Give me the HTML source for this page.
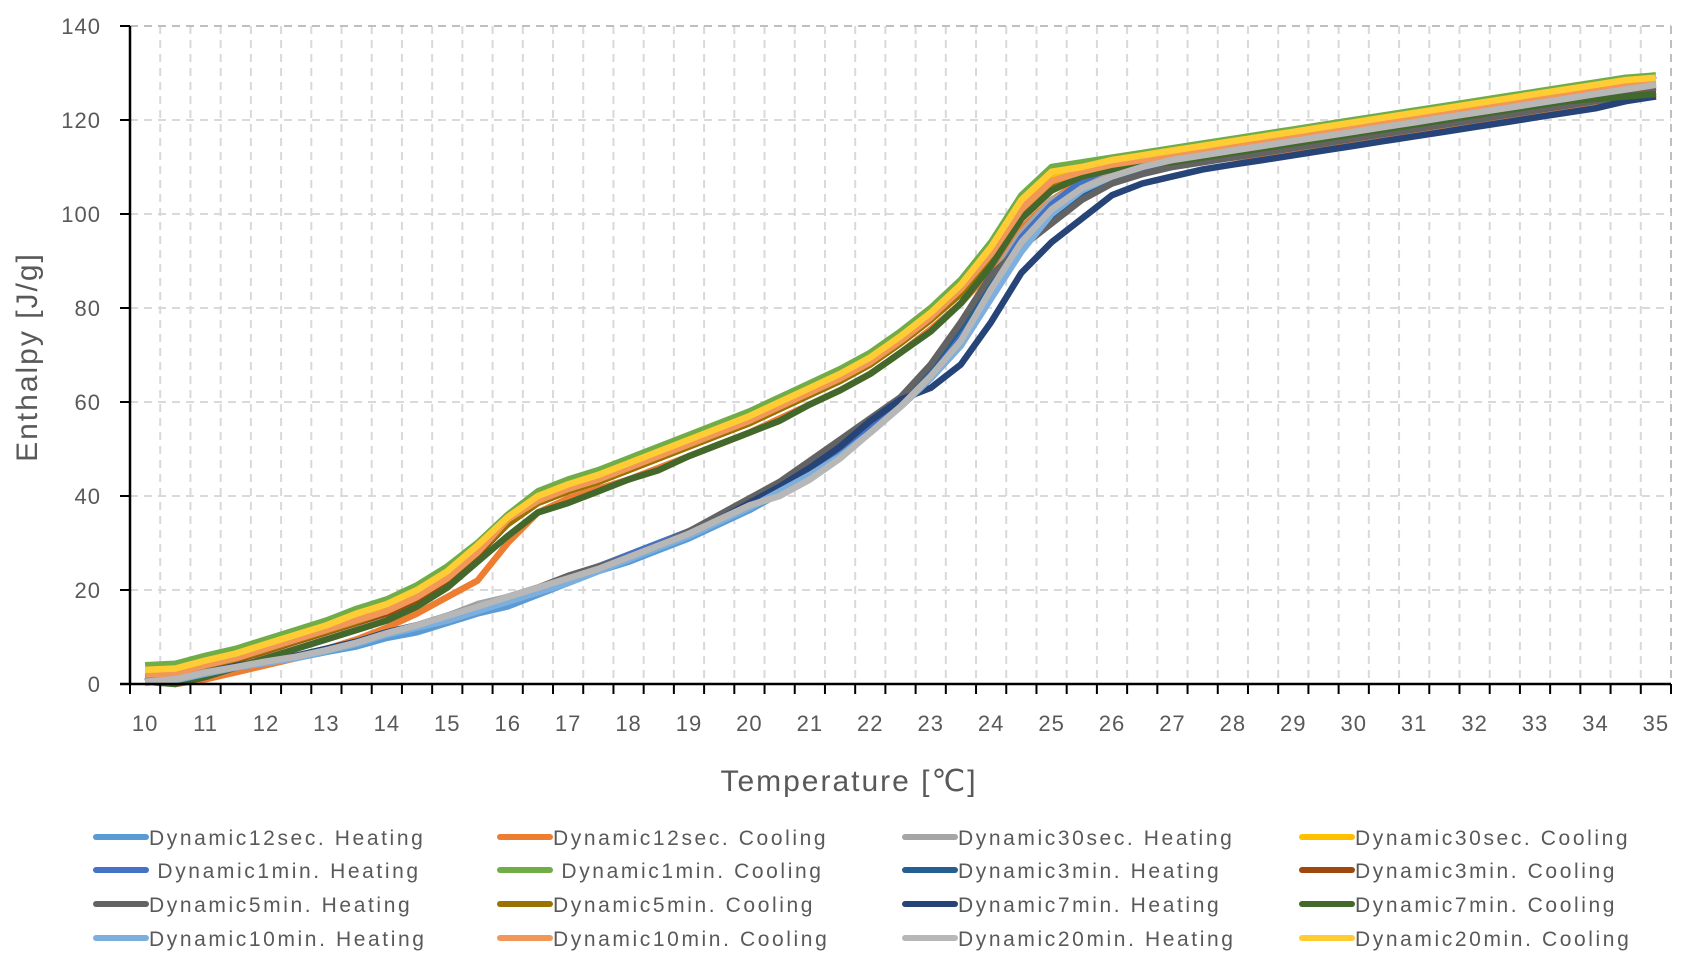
<!DOCTYPE html>
<html><head><meta charset="utf-8"><style>
html,body{margin:0;padding:0;background:#fff}
svg{display:block}
text{font-family:"Liberation Sans",sans-serif;fill:#595959}
</style></head><body>
<svg id="chart" width="1686" height="965" viewBox="0 0 1686 965" xmlns="http://www.w3.org/2000/svg">
<g id="grid"></g>
<g id="series"></g>
<g id="axes"></g>
<text x="0" y="0" transform="translate(37,357) rotate(-90)" text-anchor="middle" font-size="30" letter-spacing="2">Enthalpy [J/g]</text>
<text x="849" y="791" text-anchor="middle" font-size="30" letter-spacing="2">Temperature [℃]</text>
<g id="legend"></g>
</svg>
<script>
const categories = [10,10.5,11,11.5,12,12.5,13,13.5,14,14.5,15,15.5,16,16.5,17,17.5,18,18.5,19,19.5,20,20.5,21,21.5,22,22.5,23,23.5,24,24.5,25,25.5,26,26.5,27,27.5,28,28.5,29,29.5,30,30.5,31,31.5,32,32.5,33,33.5,34,34.5,35];
const yTicks = [0,20,40,60,80,100,120,140];
const seriesNames = ["Dynamic12sec. Heating","Dynamic12sec. Cooling","Dynamic30sec. Heating","Dynamic30sec. Cooling"," Dynamic1min. Heating"," Dynamic1min. Cooling","Dynamic3min. Heating","Dynamic3min. Cooling","Dynamic5min. Heating","Dynamic5min. Cooling","Dynamic7min. Heating","Dynamic7min. Cooling","Dynamic10min. Heating","Dynamic10min. Cooling","Dynamic20min. Heating","Dynamic20min. Cooling"];
const seriesColors = ["#5B9BD5","#ED7D31","#A5A5A5","#FFC000","#4472C4","#70AD47","#255E91","#9E480E","#636363","#997300","#264478","#43682B","#7CAFDD","#F1975A","#B7B7B7","#FFCD33"];
const h12s = [0.3,0.8,2.3,3.5,4.5,5.5,6.8,8,9.8,11,13,15,16.5,19,21.5,24,26,28.5,31,34,37,40.5,44.5,48.5,53.5,59,65,72,83,94,101,105,107.5,109.5,111,112,113,114,115,116,117,118,119,120,121,122,123,124,125,126,127];
const c12s = [1.5,0,1,2.5,4,5.5,7.5,9.5,12,15,18.5,22,30,36.5,39.5,41.5,43.5,46,48.5,51,53.5,56.5,59.5,62.5,66,70.5,75.5,81,88,97,103,107,109.5,110.5,111,111.5,112,112.5,113,114,115,116,117,118,119,120,121,122,123,124,125.5];
const h30s = [0.5,1,2.5,3.5,4.8,5.8,7.2,8.8,10.8,12.5,14.5,17,18.5,20.5,23,25,27.5,30,32.5,35.5,38.5,41.5,45.5,49.5,54.5,60,66.5,75,86,96,103,106,108.5,110,111.5,112.5,113.5,114.5,115.5,116.5,117.5,118.5,119.5,120.5,121.5,122.5,123.5,124.5,125.5,126.5,127.5];
const c30s = [2.5,2.8,4.5,6,8,10,12,14.5,16.5,19.5,23.5,29,35,39.5,42,44,46.5,49,51.5,54,56.5,59.5,62.5,65.5,69,73.5,78.5,84.5,92,102,108,109.5,111,112,113,114,115,116,117,118,119,120,121,122,123,124,125,126,127,128,128.5];
const h1m = [0.5,1,2.5,3.8,5,6,7.5,9,11,12.5,14.5,16.5,18.5,20.5,22.5,25,27.5,30,32.5,35.5,38.5,42,46,50,55,60,66,74,85,95,102,107,110,111.5,112.5,113.5,114.5,115.5,116.5,117.5,118.5,119.5,120.5,121.5,122.5,123.5,124.5,125.5,126.5,128,129.5];
const c1m = [4,4.3,6,7.5,9.5,11.5,13.5,16,18,21,25,30,36,41,43.5,45.5,48,50.5,53,55.5,58,61,64,67,70.5,75,80,86,94,104,110,111,112,113,114,115,116,117,118,119,120,121,122,123,124,125,126,127,128,129,129.5];
const h3m = [0.5,1,2.5,3.8,5,6,7.5,9,11,12.5,14.5,16.5,18,20,22.5,24.5,27,29.5,32.5,35.5,39,42.5,47,51,56,61,67.5,76,86,93,99,104,107,109,110.5,111.5,112.5,113.5,114.5,115.5,116.5,117.5,118.5,119.5,120.5,121.5,122.5,123.5,124.5,125.5,126];
const c3m = [1.5,1.8,3.5,5,7,9,11,13,15,18,22,27.5,34,38.5,41,43,45.5,48,50.5,53,55.5,58.5,61.5,64.5,68,72.5,77.5,83.5,91,100,106,108,109.5,110.5,111.5,112.5,113.5,114.5,115.5,116.5,117.5,118.5,119.5,120.5,121.5,122.5,123.5,124.5,125.5,126.5,127];
const h5m = [0.5,1,2.5,3.8,5,6,7.5,9,11,12.5,14.5,16.5,18.5,20.5,23,25,27,29.5,32.5,36,39.5,43,47.5,52,56.5,61,68,77,87,93,98,103,106.5,108.5,110,111,112,113,114,115,116,117,118,119,120,121,122,123,124,125,126];
const c5m = [1.8,2,3.8,5.3,7.2,9.2,11.2,13.2,15.5,18.5,22.5,28,34,38.5,41,43,45.5,48,50.5,53,55.5,58.5,61.5,64.5,68,72.5,77.5,83,90.5,100,106,108.5,110,111,112,113,114,115,116,117,118,119,120,121,122,123,124,125,126,127,127.5];
const h7m = [0.5,1,2.5,3.8,5,6,7.5,9,11,12.5,14.5,16.5,18,20,22,24.5,27,29.5,32,35,38.5,42,46,50.5,56,60.5,63,68,77,87.5,94,99,104,106.5,108,109.5,110.5,111.5,112.5,113.5,114.5,115.5,116.5,117.5,118.5,119.5,120.5,121.5,122.5,124,125];
const c7m = [0.5,0,1.5,3.5,5.5,7.5,9.5,11.5,13.5,16.5,20.5,26,31.5,36.5,38.5,41,43.5,45.5,48.5,51,53.5,56,59.5,62.5,66,70.5,75,81,89,99,105,108,109.5,110.5,111,112,113,114,115,116,117,118,119,120,121,122,123,124,124.5,125,125.5];
const h10m = [0.3,0.8,2.2,3.5,4.5,5.5,7,8.5,10.5,12,13.5,15.5,17.5,19.5,21.5,24,26.5,29,31.5,34.5,37.5,41,44.5,48.5,53.5,59,65,72,82,92,100,105,108,110,112,113,114,115,116,117,118,119,120,121,122,123,124,125,126,127,128];
const c10m = [2,2.3,4,5.5,7.5,9.5,11.5,13.5,15.5,18.5,22.5,28,35,39,41.5,43.5,46,48.5,51,53.5,56,59,62,65,68.5,73,78,84,91.5,101,107,109,110.5,111.5,112.5,113.5,114.5,115.5,116.5,117.5,118.5,119.5,120.5,121.5,122.5,123.5,124.5,125.5,126.5,127.5,128];
const h20m = [0.5,1,2.5,3.6,4.8,5.8,7.2,8.8,10.8,12.5,14.5,16.5,18.5,20.5,22.5,24.5,27,29.5,32,35,38,40,43.5,48,53.5,59,65.5,73,84,94,101,105.5,108,110,111.5,112.5,113.5,114.5,115.5,116.5,117.5,118.5,119.5,120.5,121.5,122.5,123.5,124.5,125.5,126.5,127.5];
const c20m = [3,3.3,5,6.5,8.5,10.5,12.5,15,17,20,24,29.5,35.5,40,42.5,44.5,47,49.5,52,54.5,57,60,63,66,69.5,74,79,85,93,103,109,110,111.5,112.5,113.5,114.5,115.5,116.5,117.5,118.5,119.5,120.5,121.5,122.5,123.5,124.5,125.5,126.5,127.5,128.5,129];
const seriesData = [h12s,c12s,h30s,c30s,h1m,c1m,h3m,c3m,h5m,c5m,h7m,c7m,h10m,c10m,h20m,c20m];

const NS = "http://www.w3.org/2000/svg";
const L = 130, R = 1671, T = 26, B = 684;
const bw = (R - L) / categories.length;
const xPos = i => L + bw * (i + 0.5);
const yPos = v => B - (v - 0) / (140 - 0) * (B - T);
function mk(tag, attrs, parent) {
  const e = document.createElementNS(NS, tag);
  for (const k in attrs) e.setAttribute(k, attrs[k]);
  parent.appendChild(e);
  return e;
}
const grid = document.getElementById('grid');
const axes = document.getElementById('axes');
const ser = document.getElementById('series');
const leg = document.getElementById('legend');

for (let i = 1; i <= categories.length; i++) {
  const x = L + bw * i;
  const g = mk('line', {x1: x, x2: x, y1: T, y2: B, stroke: i === categories.length ? '#BFBFBF' : '#D9D9D9', 'stroke-width': 2, 'stroke-dasharray': '8,6'}, grid);
  
  
}
yTicks.forEach(v => {
  const y = yPos(v);
  if (v > 0) {
    const g = mk('line', {x1: L, x2: R, y1: y, y2: y, stroke: v === 140 ? '#BFBFBF' : '#D9D9D9', 'stroke-width': 2, 'stroke-dasharray': '8,6'}, grid);
    
    
  }
  const tk = mk('line', {x1: L - 10, x2: L, y1: y, y2: y, stroke: '#000', 'stroke-width': 2}, axes);
  
  
  const t = mk('text', {x: 101, y: y + 8, 'text-anchor': 'end', 'font-size': 22, 'letter-spacing': 1}, axes);
  t.textContent = v;
  
  
});
for (let i = 0; i <= categories.length; i++) {
  const x = L + bw * i;
  const tk = mk('line', {x1: x, x2: x, y1: B, y2: B + 10, stroke: '#000', 'stroke-width': 2}, axes);
  
  
}
categories.forEach((c, i) => {
  if (Number.isInteger(c)) {
    const t = mk('text', {x: xPos(i), y: 731, 'text-anchor': 'middle', 'font-size': 22, 'letter-spacing': 1}, axes);
    t.textContent = c;
    
    
  }
});
const ya = mk('line', {x1: L, x2: L, y1: T, y2: B, stroke: '#000', 'stroke-width': 2.5}, axes);


const xa = mk('line', {x1: L - 10, x2: R, y1: B, y2: B, stroke: '#000', 'stroke-width': 2.5}, axes);



seriesData.forEach((d, s) => {
  const pts = d.map((v, i) => xPos(i).toFixed(1) + ',' + yPos(v).toFixed(1)).join(' ');
  const p = mk('polyline', {points: pts, fill: 'none', stroke: seriesColors[s], 'stroke-width': 6.5, 'stroke-linejoin': 'round'}, ser);
  
  
});

const colX = [96, 500, 905, 1302];
const rowY = [837, 870, 904, 938];
seriesNames.forEach((n, s) => {
  const cx = colX[s % 4], cy = rowY[Math.floor(s / 4)];
  const g = mk('g', {}, leg);
  
  
  mk('line', {x1: cx, x2: cx + 50, y1: cy, y2: cy, stroke: seriesColors[s], 'stroke-width': 6, 'stroke-linecap': 'round'}, g);
  const t = mk('text', {x: cx + 53, y: cy + 8, 'font-size': 21, 'letter-spacing': 2.6}, g);
  t.setAttribute('style', 'white-space:pre');
  t.textContent = n;
});
</script>
</body></html>
